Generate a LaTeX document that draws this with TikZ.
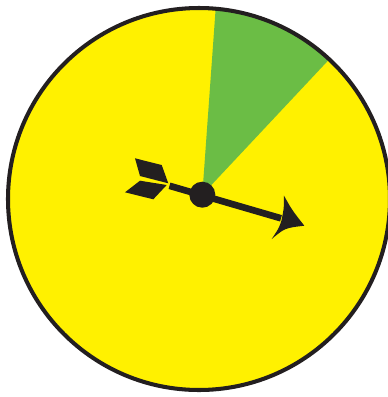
\documentclass[tikz,border=0pt]{standalone}
\usetikzlibrary{calc}
\definecolor{dialyellow}{HTML}{FFF100}
\definecolor{dialgreen}{HTML}{6BBD45}
\definecolor{dialink}{HTML}{231F20}

\begin{document}
\begin{tikzpicture}[
    x=0.02cm, y=-0.02cm,
    rim/.style={draw=dialink, line width=2.3pt},
    wedge/.style={fill=dialgreen},
    shaft/.style={draw=dialink, line width=3.8pt},
    ink/.style={fill=dialink},
    pivot/.style={circle, fill=dialink, inner sep=0pt, minimum size=0.52cm}
]
\useasboundingbox (0,0) rectangle (388,397);
\clip (0,0) rectangle (388,397);

% Dial face
\coordinate (centre) at (199,199);
\coordinate (hub) at (202.3,194.7);
\fill[dialyellow] (centre) circle[radius=191];

% Green sector
\fill[wedge] (hub) -- ($(centre)+(-85:191)$) arc[start angle=-85, end angle=-47, radius=191] -- cycle;
\draw[rim] (centre) circle[radius=191];

% Needle
\coordinate (tail) at (169.5,185.8);
\coordinate (shaftend) at (281,218.3);
\coordinate (tip) at (304.3,225.7);
\coordinate (barbtop) at (284,195.7);
\coordinate (barbbot) at (271.7,239);
\coordinate (notch) at (281.5,220.5);
\draw[shaft] (tail) -- (shaftend);
\fill[ink] (barbtop) .. controls (292,210) .. (tip) .. controls (285,228) .. (barbbot)
    .. controls (279,228) .. (notch) .. controls (284,208) .. (barbtop) -- cycle;

% Feathers
\fill[ink] (135,158.3) -- (161.7,165) -- (168.3,183.3) -- (140,176) -- cycle;
\fill[ink] (125,192.3) -- (140,180.7) -- (166.7,185) -- (153.3,199.3) -- cycle;

% Pivot
\node[pivot] (pin) at (hub) {};

\end{tikzpicture}
\end{document}
